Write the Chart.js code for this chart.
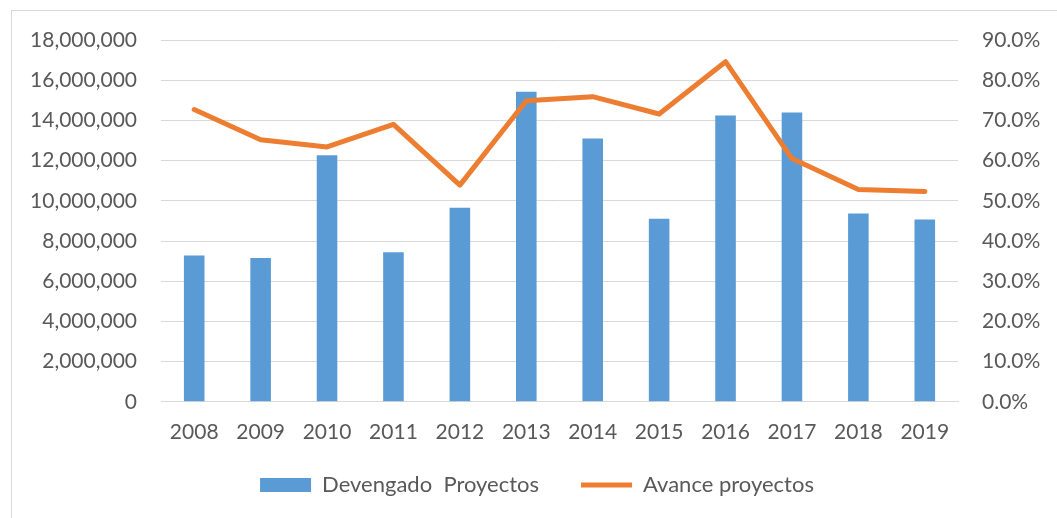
<!DOCTYPE html>
<html>
<head>
<meta charset="utf-8">
<script src="https://cdn.jsdelivr.net/npm/chart.js@4.4.1/dist/chart.umd.min.js"></script>
<style>
  html, body { margin: 0; padding: 0; background: #fff; overflow: hidden; }
  #wrap { position: relative; width: 1057px; height: 518px; }
  #frame { position: absolute; left: 11px; top: 10px; width: 1100px; height: 600px; border: 1px solid #d9d9d9; box-sizing: border-box; }
  canvas { position: absolute; left: 0; top: 0; }
</style>
</head>
<body>
<div id="wrap">
  <div id="frame"></div>
  <canvas id="c" width="1057" height="518"></canvas>
</div>
<script>
const categories = ["2008","2009","2010","2011","2012","2013","2014","2015","2016","2017","2018","2019"];
const devengado = [7280000, 7150000, 12270000, 7440000, 9660000, 15420000, 13100000, 9110000, 14240000, 14390000, 9370000, 9070000];
const avance = [72.7, 65.2, 63.4, 69.0, 53.9, 74.9, 75.9, 71.6, 84.6, 60.5, 52.8, 52.3];
const seriesNames = ["Devengado  Proyectos", "Avance proyectos"];

const FONT = "Lato, 'Liberation Sans', sans-serif";
const TXT = "#595959";
const GRID = "#d9d9d9";
const PAD_LEFT = 17;

// Pull the legend items up, keeping the wide horizontal gap between items
const legendShift = {
  id: 'legendShift',
  afterLayout(chart) {
    const lg = chart.legend;
    if (lg && !lg.__shifted) {
      const orig = lg.draw;
      lg.draw = function (...args) {
        const ctx = this.ctx;
        ctx.save();
        ctx.translate(0, -31);
        orig.apply(this, args);
        ctx.restore();
      };
      lg.__shifted = true;
    }
  }
};

new Chart(document.getElementById('c'), {
  data: {
    labels: categories,
    datasets: [
      {
        type: 'bar',
        label: seriesNames[0],
        data: devengado,
        backgroundColor: '#5b9bd5',
        borderWidth: 0,
        barPercentage: 0.31,
        categoryPercentage: 1.0,
        yAxisID: 'y',
        order: 1,
        pointStyle: 'rect'
      },
      {
        type: 'line',
        label: seriesNames[1],
        data: avance,
        borderColor: '#ed7d31',
        backgroundColor: '#ed7d31',
        borderWidth: 5,
        borderCapStyle: 'round',
        borderJoinStyle: 'round',
        pointRadius: 0,
        tension: 0,
        yAxisID: 'y1',
        order: 0,
        pointStyle: 'line'
      }
    ]
  },
  plugins: [legendShift],
  options: {
    responsive: false,
    animation: false,
    devicePixelRatio: 1,
    layout: { padding: { left: PAD_LEFT, right: 0, top: 40, bottom: -19 } },
    plugins: {
      tooltip: { enabled: false },
      legend: {
        position: 'bottom',
        labels: {
          usePointStyle: true,
          pointStyleWidth: 51,
          boxHeight: 14,
          padding: 42,
          color: TXT,
          font: { family: FONT, size: 22 },
          sort: (a, b) => a.datasetIndex - b.datasetIndex
        }
      }
    },
    scales: {
      x: {
        grid: { display: false, drawTicks: false },
        border: { display: true, color: GRID, width: 1 },
        ticks: { color: TXT, font: { family: FONT, size: 21 }, padding: 18, maxRotation: 0 }
      },
      y: {
        position: 'left',
        min: 0, max: 18000000,
        grid: { color: GRID, lineWidth: 1, drawTicks: false },
        border: { display: false },
        afterFit: s => { s.width = 161 - PAD_LEFT; },
        ticks: {
          stepSize: 2000000,
          padding: 24,
          color: TXT,
          font: { family: FONT, size: 21 },
          callback: v => Number(v).toLocaleString('en-US')
        }
      },
      y1: {
        position: 'right',
        min: 0, max: 90,
        grid: { display: false, drawTicks: false },
        border: { display: false },
        afterFit: s => { s.width = 1057 - 958; },
        ticks: {
          stepSize: 10,
          padding: 24,
          color: TXT,
          font: { family: FONT, size: 21 },
          callback: v => Number(v).toFixed(1) + '%'
        }
      }
    }
  }
});
</script>
</body>
</html>
